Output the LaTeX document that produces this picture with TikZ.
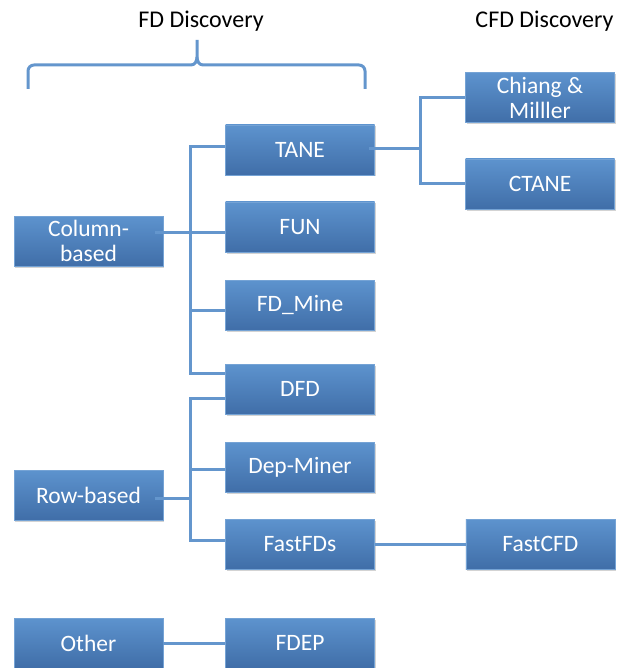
\documentclass[tikz,border=0pt]{standalone}
\usepackage{fontspec}
\setmainfont{Carlito}
\usetikzlibrary{shadows,positioning,calc}
\definecolor{boxtop}{RGB}{93,147,206}
\definecolor{boxbot}{RGB}{64,110,168}
\definecolor{linkblue}{RGB}{100,150,205}

\begin{document}
\begin{tikzpicture}[x=1pt,y=-1pt,
    fd node/.style={rectangle,minimum width=149pt,minimum height=50pt,inner sep=2pt,top color=boxtop,bottom color=boxbot,draw=boxtop!85!white,line width=0.4pt,text=white,align=center,font=\fontsize{23.5}{25}\selectfont,drop shadow={shadow xshift=1pt,shadow yshift=-1.5pt,opacity=0.35}},
    link/.style={draw=linkblue,line width=3pt},
    head/.style={font=\fontsize{24}{26}\selectfont,anchor=base}]

    \useasboundingbox (0,0) rectangle (628,668);

    % headings
    \node[head] (fdhead) at (201,28) {FD Discovery};
    \node[head] (cfdhead) at (544.5,28) {CFD Discovery};

    % groups
    \node[fd node] (colb) at (88.5,241) {Column-\\based};
    \node[fd node] (rowb) at (88.5,495) {Row-based};
    \node[fd node] (other) at (88.5,643) {Other};

    % FD algorithms
    \foreach \name/\txt/\y in {tane/TANE/150, fun/FUN/227, fdmine/FD\_Mine/305, dfd/DFD/389, depminer/Dep-Miner/467, fastfds/FastFDs/544, fdep/FDEP/643}{
        \node[fd node] (\name) at (300,\y) {\txt};
    }

    % CFD algorithms
    \node[fd node] (chiang) at (540,97.5) {Chiang \&\\Milller};
    \node[fd node] (ctane) at (540,184) {CTANE};
    \node[fd node] (fastcfd) [right=91pt of fastfds] {FastCFD};

    % brace
    \draw[link] (28,89) -- (28,71) to[out=90,in=180] (34,65) -- (191,65) to[out=0,in=-90] (197,57) -- (197,40);
    \draw[link] (197,57) to[out=-90,in=180] (203,65) -- (359,65) to[out=0,in=90] (365,71) -- (365,89);

    % column-based
    \draw[link] ([xshift=-8pt,yshift=9pt]colb.east) -- ([yshift=-5pt]fun.west);
    \draw[link] ([yshift=3pt]tane.west) -| ([xshift=-35pt,yshift=16pt]dfd.west) -- ([yshift=16pt]dfd.west);
    \draw[link] ([yshift=-5pt]fdmine.west) -- ++(-35,0);

    % row-based
    \draw[link] ([xshift=-8pt,yshift=-3pt]rowb.east) -- ++(35,0);
    \draw[link] ([yshift=-9pt]dfd.west) -| ([xshift=-35pt,yshift=4pt]fastfds.west) -- ([yshift=4pt]fastfds.west);
    \draw[link] ([yshift=-2pt]depminer.west) -- ++(-35,0);

    % CFD links
    \draw[link] ([xshift=-6pt,yshift=1pt]tane.east) -- ++(51,0);
    \draw[link] (chiang.west) -| ([xshift=-45pt]ctane.west) -- (ctane.west);
    \draw[link] (fastfds) -- (fastcfd);
    \draw[link] (other) -- (fdep);

\end{tikzpicture}
\end{document}
